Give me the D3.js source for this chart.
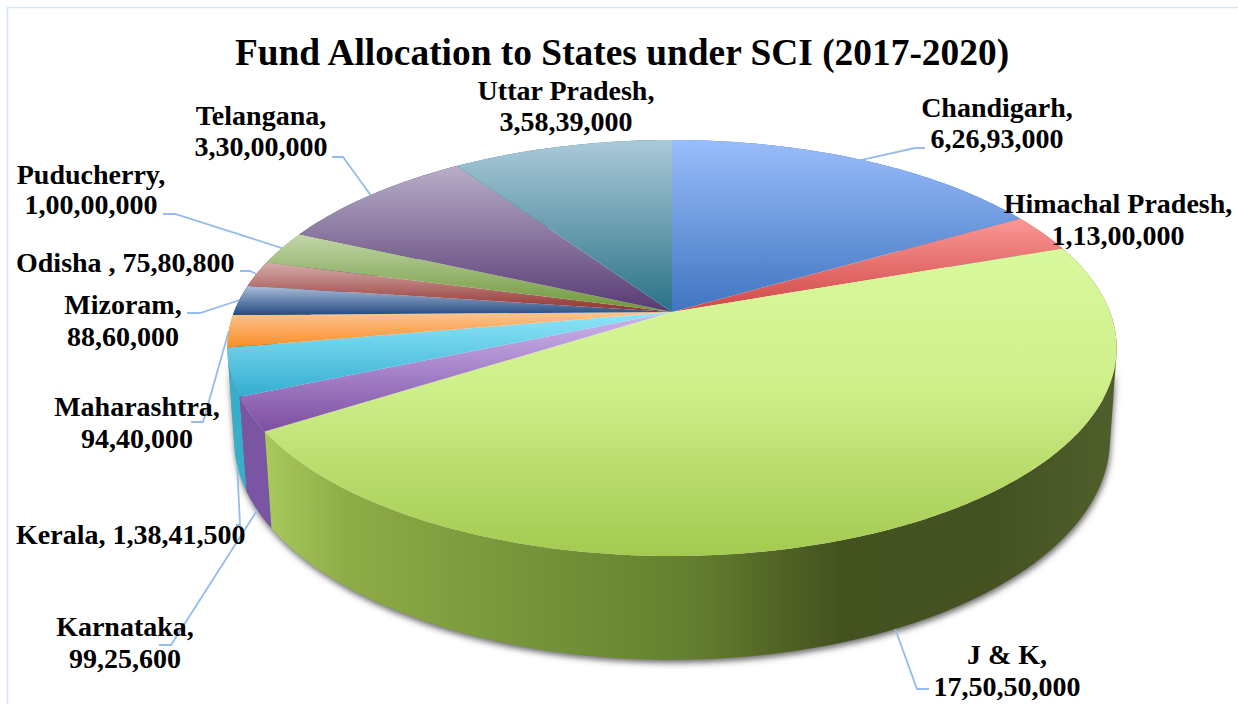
<!DOCTYPE html>
<html>
<head>
<meta charset="utf-8">
<script src="https://cdn.jsdelivr.net/npm/d3@7/dist/d3.min.js"></script>
<style>
  html, body { margin: 0; padding: 0; background: #fff; }
  svg { display: block; }
  text { font-family: "Liberation Serif", "Times New Roman", serif; font-weight: 700; fill: #000; }
</style>
</head>
<body>
<svg id="chart" width="1238" height="704"></svg>
<script>
// Fund allocation figures (rupees), in clockwise order from twelve o'clock.
const states = ["Chandigarh", "Himachal Pradesh", "J & K", "Karnataka", "Kerala", "Maharashtra",
                "Mizoram", "Odisha ", "Puducherry", "Telangana", "Uttar Pradesh"];
const funds = [62693000, 11300000, 175050000, 9925600, 13841500, 9440000,
               8860000, 7580800, 10000000, 33000000, 35839000];
const titleText = "Fund Allocation to States under SCI (2017-2020)";

// Slice shading: light edge, dark edge, and side-wall colour.
const lightShades = ["#9abdfa", "#fb9896", "#d9f99e", "#cdb6ee", "#8fe6fa", "#fdc592", "#acbedb", "#d6aeab", "#c2d6aa", "#b9aec8", "#abcad9"];
const darkShades  = ["#3f75c0", "#cf4745", "#a3ca50", "#7d4ea1", "#33add0", "#f98d25", "#234a80", "#8f2f2d", "#6c9637", "#573a73", "#2a7287"];
const wallShades  = ["#3f75c0", "#a83a38", "#5d7a2e", "#7a55a3", "#38aecb", "#d97a20", "#234a80", "#8f2f2d", "#6c9637", "#573a73", "#2a7287"];
const wallRamp = [[0, "#a9c95c"], [0.1, "#8dab46"], [0.3, "#77963a"], [0.5, "#64802f"], [0.68, "#44521f"], [0.86, "#445222"], [1, "#4f5f2b"]];

// Label placement: line centre or left edge, baselines, and leader line waypoints.
const labelLayout = [
  { x: 997,  ys: [117, 148], leader: [[915, 148], [925, 148]], rim: "top" },
  { x: 1118, ys: [213, 245] },
  { x: 1007, ys: [664, 696], leader: [[917, 689], [929, 689]], rim: "bottom" },
  { x: 125,  ys: [636, 668], leader: [[171, 645], [159, 645]], rim: "bottom" },
  { x: 16,   ys: [544], anchor: "start", leader: [[240, 525], [236, 525]], rim: "bottom" },
  { x: 137,  ys: [416, 448], leader: [[203, 422], [191, 422]], rim: "top" },
  { x: 123,  ys: [314, 346], leader: [[200, 313], [187, 313]], rim: "top" },
  { x: 16,   ys: [272], anchor: "start", leader: [[250, 271], [240, 271]], rim: "top" },
  { x: 91,   ys: [184, 214], leader: [[175, 214], [163, 214]], rim: "top" },
  { x: 261,  ys: [125, 156], leader: [[343, 157], [332, 157]], rim: "top" },
  { x: 566,  ys: [100, 131] }
];

const svg = d3.select("#chart");
const defs = svg.append("defs");

// Perspective model of the disc: a unit circle tilted toward the viewer.
const disc = { cx: 672, cy: 312, a: 438, b: 201.8, tilt: 0.173, drop: 91, shrink: 0.015 };
function project(angle, lower) {
  const x = Math.sin(angle), y = Math.cos(angle);
  const w = 1 + disc.tilt * y + (lower ? disc.shrink : 0);
  return [disc.cx + disc.a * x / w, disc.cy + (-disc.b * y + (lower ? disc.drop : 0)) / w];
}
function arcAngles(a0, a1) {
  const n = Math.max(2, Math.ceil((a1 - a0) / (Math.PI / 240)));
  return d3.range(n + 1).map(i => a0 + (a1 - a0) * i / n);
}
function arcPoints(a0, a1, lower) {
  return arcAngles(a0, a1).map(a => project(a, lower));
}

// The wall is a strip of quads between the two rims, all wound the same way,
// so the fill also covers the silhouette where the rims fold past each other.
function wallPath(a0, a1) {
  const angles = arcAngles(a0, a1);
  let d = "";
  for (let i = 0; i < angles.length - 1; i++) {
    const quad = [project(angles[i], false), project(angles[i + 1], false),
                  project(angles[i + 1], true), project(angles[i], true)];
    if (d3.polygonArea(quad) < 0) quad.reverse();
    d += "M" + quad.map(p => p.join(",")).join("L") + "Z";
  }
  return d;
}

// Indian digit grouping, e.g. 17,50,50,000.
function grouped(v) {
  const s = String(v);
  if (s.length <= 3) return s;
  const tail = s.slice(-3);
  const head = s.slice(0, -3).replace(/\B(?=(\d{2})+(?!\d))/g, ",");
  return head + "," + tail;
}

const slices = d3.pie().sort(null).value((d, i) => funds[i])(states);
const linePath = d3.line();

// Frame along the top and left edge of the chart area.
svg.append("path")
  .attr("d", "M7.5,704V7.5H1238")
  .attr("fill", "none").attr("stroke", "#d5e5f8").attr("stroke-width", 1.5);

// Soft shadow under the disc.
const shadow = defs.append("filter").attr("id", "discShadow")
  .attr("x", "-5%").attr("y", "-5%").attr("width", "110%").attr("height", "115%");
shadow.append("feGaussianBlur").attr("stdDeviation", 3);

// Horizontal ramp for the wide wall and vertical ramps for the top faces.
const wallGrad = defs.append("linearGradient").attr("id", "bigWall")
  .attr("gradientUnits", "userSpaceOnUse")
  .attr("x1", project(slices[2].endAngle, false)[0]).attr("y1", 0)
  .attr("x2", project(Math.PI / 2, false)[0]).attr("y2", 0);
wallRamp.forEach(([o, c]) => wallGrad.append("stop").attr("offset", o).attr("stop-color", c));

slices.forEach((s, i) => {
  const g = defs.append("linearGradient").attr("id", "face" + i)
    .attr("x1", 0).attr("y1", 0).attr("x2", 0).attr("y2", 1);
  g.append("stop").attr("offset", 0).attr("stop-color", lightShades[i]);
  if (i === 2) g.append("stop").attr("offset", 0.45).attr("stop-color", "#cfef8a");
  g.append("stop").attr("offset", 1).attr("stop-color", darkShades[i]);
});

// Shadow silhouette follows the front of the wall, nudged down and out.
svg.append("path")
  .attr("d", wallPath(Math.PI * 0.58, Math.PI * 1.43))
  .attr("transform", "translate(1,3)")
  .attr("fill", "#666").attr("filter", "url(#discShadow)");

// Walls, back to front, then the top faces over them.
const order = slices.map((s, i) => i)
  .sort((a, b) => project((slices[a].startAngle + slices[a].endAngle) / 2)[1]
                - project((slices[b].startAngle + slices[b].endAngle) / 2)[1]);
svg.append("g").selectAll("path").data(order).join("path")
  .attr("d", i => wallPath(slices[i].startAngle, slices[i].endAngle))
  .attr("fill", i => i === 2 ? "url(#bigWall)" : wallShades[i]);

svg.append("g").selectAll("path").data(slices).join("path")
  .attr("d", s => linePath([[disc.cx, disc.cy]].concat(arcPoints(s.startAngle, s.endAngle, false))) + "Z")
  .attr("fill", (s, i) => `url(#face${i})`);

// Leader lines run from the slice's rim midpoint through the label elbow.
svg.append("g").selectAll("path")
  .data(labelLayout.map((l, i) => ({ l, s: slices[i] })).filter(d => d.l.leader))
  .join("path")
  .attr("d", d => linePath([project((d.s.startAngle + d.s.endAngle) / 2, d.l.rim === "bottom")].concat(d.l.leader)))
  .attr("fill", "none").attr("stroke", "#94bcec").attr("stroke-width", 1.8);

// Title and data labels.
svg.append("text")
  .attr("x", 622).attr("y", 65).attr("text-anchor", "middle")
  .attr("font-size", 37.4).text(titleText);

labelLayout.forEach((l, i) => {
  const lines = l.ys.length === 1
    ? [states[i] + ", " + grouped(funds[i])]
    : [states[i] + ",", grouped(funds[i])];
  lines.forEach((t, j) => {
    svg.append("text")
      .attr("x", l.x).attr("y", l.ys[j])
      .attr("text-anchor", l.anchor || "middle")
      .attr("font-size", 28).text(t);
  });
});
</script>
</body>
</html>
